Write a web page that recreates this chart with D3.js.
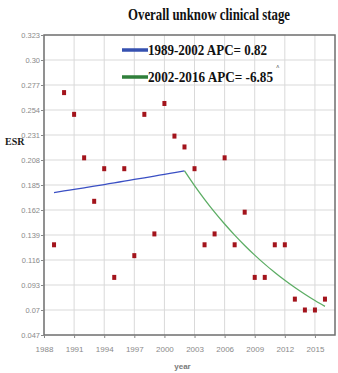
<!DOCTYPE html>
<html>
<head>
<meta charset="utf-8">
<script src="https://cdn.jsdelivr.net/npm/d3@7"></script>
<style>
  html, body { margin: 0; padding: 0; background: #fff; }
  svg { display: block; }
</style>
</head>
<body>
<svg id="chart" width="338" height="373"></svg>
<script>
// Observed ESR by year of diagnosis
const years = [1989, 1990, 1991, 1992, 1993, 1994, 1995, 1996, 1997, 1998, 1999, 2000, 2001, 2002,
               2003, 2004, 2005, 2006, 2007, 2008, 2009, 2010, 2011, 2012, 2013, 2014, 2015, 2016];
const esr = [0.13, 0.27, 0.25, 0.21, 0.17, 0.20, 0.10, 0.20, 0.12, 0.25, 0.14, 0.26, 0.23, 0.22,
             0.20, 0.13, 0.14, 0.21, 0.13, 0.16, 0.10, 0.10, 0.13, 0.13, 0.08, 0.07, 0.07, 0.08];

// Joinpoint segment fits
const seg1Years = [1989, 1990, 1991, 1992, 1993, 1994, 1995, 1996, 1997, 1998, 1999, 2000, 2001, 2002];
const seg1Fit = [0.178, 0.1795, 0.1809, 0.1824, 0.1839, 0.1854, 0.187, 0.1885, 0.1901, 0.1916, 0.1932, 0.1948, 0.1964, 0.198];
const seg2Years = [2002, 2003, 2004, 2005, 2006, 2007, 2008, 2009, 2010, 2011, 2012, 2013, 2014, 2015, 2016];
const seg2Fit = [0.198, 0.1844, 0.1718, 0.16, 0.1491, 0.1389, 0.1294, 0.1205, 0.1122, 0.1046, 0.0974, 0.0907, 0.0845, 0.0787, 0.0733];

const legendLabels = ["1989-2002 APC= 0.82", "2002-2016 APC= -6.85"];
const yTicks = [0.323, 0.30, 0.277, 0.254, 0.231, 0.208, 0.185, 0.162, 0.139, 0.116, 0.093, 0.07, 0.047];
const yTickLabels = ["0.323", "0.30", "0.277", "0.254", "0.231", "0.208", "0.185", "0.162", "0.139", "0.116", "0.093", "0.07", "0.047"];
const xTicks = [1988, 1991, 1994, 1997, 2000, 2003, 2006, 2009, 2012, 2015];

const svg = d3.select("#chart");
const plotLeft = 44, plotRight = 335, plotTop = 35, plotBottom = 335;

const x = d3.scaleLinear().domain([1988, 2017]).range([plotLeft, plotRight]);
const y = d3.scaleLinear().domain([0.047, 0.323]).range([plotBottom, plotTop]);

// grid
const grid = svg.append("g");
grid.selectAll("line.v").data(xTicks.slice(1)).join("line")
  .attr("x1", d => x(d)).attr("x2", d => x(d))
  .attr("y1", plotTop).attr("y2", plotBottom)
  .attr("stroke", "#d9d9d9").attr("stroke-width", 1);
grid.selectAll("line.h").data(yTicks.slice(1, -1)).join("line")
  .attr("x1", plotLeft).attr("x2", plotRight)
  .attr("y1", d => y(d)).attr("y2", d => y(d))
  .attr("stroke", "#d9d9d9").attr("stroke-width", 1);

// frame
svg.append("rect")
  .attr("x", plotLeft).attr("y", plotTop)
  .attr("width", plotRight - plotLeft).attr("height", plotBottom - plotTop)
  .attr("fill", "none").attr("stroke", "#6e6e6e").attr("stroke-width", 1.5);

const tickFont = "'Liberation Sans Narrow', 'Arial Narrow', sans-serif";

// y axis
const yAxis = d3.axisLeft(y).tickValues(yTicks)
  .tickFormat((d, i) => yTickLabels[i]).tickSize(3).tickPadding(1);
const gy = svg.append("g").attr("transform", `translate(${plotLeft},0)`).call(yAxis);
gy.select(".domain").remove();
gy.selectAll(".tick line").attr("stroke", "#888");
gy.selectAll(".tick text")
  .attr("fill", "#8a8a8a")
  .style("font-family", tickFont)
  .style("font-size", "7.5px");

// x axis
const xAxis = d3.axisBottom(x).tickValues(xTicks).tickFormat(d3.format("d")).tickSize(3).tickPadding(8);
const gx = svg.append("g").attr("transform", `translate(0,${plotBottom})`).call(xAxis);
gx.select(".domain").remove();
gx.selectAll(".tick line").attr("stroke", "#888");
gx.selectAll(".tick text")
  .attr("fill", "#8a8a8a")
  .style("font-family", tickFont)
  .style("font-size", "8px");

// axis titles
svg.append("text").attr("x", x(2002) - 2).attr("y", 369)
  .attr("text-anchor", "middle")
  .attr("fill", "#7a7a7a")
  .style("font-family", "'Liberation Sans', Arial, sans-serif")
  .style("font-size", "8px").style("font-weight", "bold")
  .text("year");

svg.append("text").attr("x", 5).attr("y", 145)
  .attr("fill", "#1a1a1a")
  .style("font-family", "'Liberation Serif', 'Times New Roman', serif")
  .style("font-size", "10px").style("font-weight", "bold")
  .text("ESR");

// title
svg.append("text").attr("x", 128).attr("y", 20)
  .attr("textLength", 162).attr("lengthAdjust", "spacingAndGlyphs")
  .attr("fill", "#111")
  .style("font-family", "'Liberation Serif', 'Times New Roman', serif")
  .style("font-size", "16px").style("font-weight", "bold")
  .text("Overall unknow clinical stage");

// fitted segments
const line = d3.line().x(d => x(d[0])).y(d => y(d[1])).curve(d3.curveMonotoneX);
svg.append("path")
  .datum(seg1Years.map((yr, i) => [yr, seg1Fit[i]]))
  .attr("d", line).attr("fill", "none")
  .attr("stroke", "#3a4fc4").attr("stroke-width", 1.3);
svg.append("path")
  .datum(seg2Years.map((yr, i) => [yr, seg2Fit[i]]))
  .attr("d", line).attr("fill", "none")
  .attr("stroke", "#5cad64").attr("stroke-width", 1.3);

// observed points
svg.append("g").selectAll("rect").data(years).join("rect")
  .attr("x", (d) => x(d) - 2)
  .attr("y", (d, i) => y(esr[i]) - 2.5)
  .attr("width", 4).attr("height", 5)
  .attr("fill", "#a3141c");

// legend
const legendColors = ["#3651b0", "#2f7f3a"];
const lg = svg.append("g");
legendLabels.forEach((lab, i) => {
  const ly = 50 + i * 27;
  lg.append("line").attr("x1", 122).attr("x2", 148).attr("y1", ly).attr("y2", ly)
    .attr("stroke", legendColors[i]).attr("stroke-width", 3.5);
  lg.append("text").attr("x", 148).attr("y", ly + 5)
    .attr("textLength", i === 0 ? 119 : 125).attr("lengthAdjust", "spacingAndGlyphs")
    .attr("fill", "#111")
    .style("font-family", "'Liberation Serif', 'Times New Roman', serif")
    .style("font-size", "15px").style("font-weight", "bold")
    .text(lab);
});
lg.append("text").attr("x", 276).attr("y", 69)
  .attr("fill", "#111")
  .style("font-family", "'Liberation Serif', 'Times New Roman', serif")
  .style("font-size", "6px").style("font-weight", "bold")
  .text("^");
</script>
</body>
</html>
